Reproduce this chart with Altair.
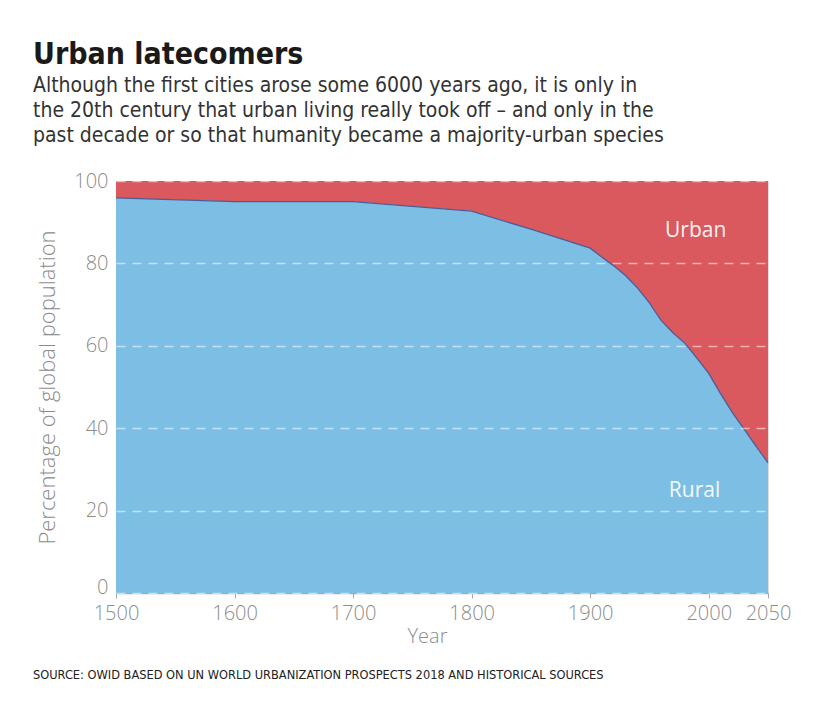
import altair as alt
import pandas as pd

years = [1500, 1600, 1700, 1800, 1850, 1900, 1910, 1920, 1930, 1940, 1950, 1955, 1960, 1970, 1980, 1990, 2000, 2010, 2020, 2030, 2040, 2050]
rural = [95.9, 95.0, 95.0, 92.7, 88.3, 83.7, 81.5, 79.4, 77.0, 74.0, 70.4, 68.2, 66.1, 63.1, 60.6, 57.0, 53.3, 48.4, 43.8, 39.7, 35.6, 31.6]

label_text = ["Urban", "Rural"]
label_year = [1989, 1988]
label_value = [87.9, 24.8]

source_text = ["SOURCE: OWID BASED ON UN WORLD URBANIZATION PROSPECTS 2018 AND HISTORICAL SOURCES"]

title_text = "Urban latecomers"
subtitle_lines = [
    "Although the first cities arose some 6000 years ago, it is only in",
    "the 20th century that urban living really took off \u2013 and only in the",
    "past decade or so that humanity became a majority-urban species",
]

df = pd.DataFrame({"year": years, "rural": rural})
df["top"] = 100
df["bottom"] = 0
labels = pd.DataFrame({"label": label_text, "year": label_year, "value": label_value})
src = pd.DataFrame({"t": source_text})

BLUE = "#7dbee5"
RED = "#d9595e"
LINE = "#4d5b96"
GREY = "#8c8c8c"
NARROW = "Liberation Sans Narrow, DejaVu Sans Condensed, Roboto"
AXF = "Open Sans"

x_scale = alt.Scale(domain=[1500, 2050], nice=False, zero=False)
y_scale = alt.Scale(domain=[0, 100], nice=False)

x_axis = alt.Axis(
    values=[1500, 1600, 1700, 1800, 1900, 2000, 2050], format="d", title="Year",
    labelFont=AXF, labelFontSize=20, labelFontWeight=300, labelColor=GREY, labelPadding=5,
    labelFlush=False, labelOverlap=False,
    titleFont=AXF, titleFontSize=20, titleFontWeight=300, titleColor=GREY, titlePadding=3,
    titleX=311, titleAlign="center",
    domainColor="#a8a8a8", domainWidth=1.5, tickColor="#a8a8a8", tickSize=5,
    grid=False,
)
y_axis = alt.Axis(
    values=[0, 20, 40, 60, 80, 100], title="Percentage of global population",
    labelFont=AXF, labelFontSize=20, labelFontWeight=300, labelColor=GREY, labelPadding=8,
    labelBaseline=alt.condition("datum.value == 0", alt.value("alphabetic"), alt.value("middle")),
    titleFont=AXF, titleFontSize=22, titleFontWeight=300, titleColor=GREY, titlePadding=14,
    domain=False, ticks=False, grid=True, gridColor="white", gridOpacity=0.55,
    gridDash=[9, 7], gridWidth=1.5, zindex=1,
)

base = alt.Chart(df)

urban_area = base.mark_area(color=RED, opacity=1).encode(
    x=alt.X("year:Q", scale=x_scale, axis=x_axis),
    y=alt.Y("rural:Q", scale=y_scale, axis=y_axis),
    y2="top:Q",
)
rural_area = base.mark_area(color=BLUE, opacity=1).encode(
    x=alt.X("year:Q", scale=x_scale),
    y=alt.Y("rural:Q", scale=y_scale),
    y2="bottom:Q",
)
boundary = base.mark_line(color=LINE, strokeWidth=1.3).encode(
    x=alt.X("year:Q", scale=x_scale),
    y=alt.Y("rural:Q", scale=y_scale),
)
label_marks = alt.Chart(labels).mark_text(
    font=AXF, fontSize=21, color="white", opacity=0.92, align="center", baseline="middle"
).encode(
    x=alt.X("year:Q", scale=x_scale),
    y=alt.Y("value:Q", scale=y_scale),
    text="label:N",
)
source_mark = alt.Chart(src).mark_text(
    font=NARROW, fontSize=12.7, color="#222222", align="left", baseline="middle"
).encode(
    x=alt.value(-83),
    y=alt.value(494),
    text="t:N",
)

chart = alt.layer(urban_area, rural_area, boundary, label_marks, source_mark).properties(
    width=652,
    height=412,
    padding={"left": 108, "top": 173, "right": 52, "bottom": 100},
    autosize=alt.AutoSizeParams(type="none"),
    title=alt.TitleParams(
        text=title_text,
        subtitle=subtitle_lines,
        anchor="start",
        frame="group",
        dx=-83,
        offset=25,
        font=NARROW,
        fontSize=30,
        fontWeight="bold",
        color="#1a1a1a",
        subtitleFont=NARROW,
        subtitleFontSize=21,
        subtitleColor="#333333",
        subtitleLineHeight=25,
        subtitlePadding=5,
    ),
).configure_view(stroke=None).configure(background="white")

chart.save("out.html", embed_options={"renderer": "svg", "actions": False})
